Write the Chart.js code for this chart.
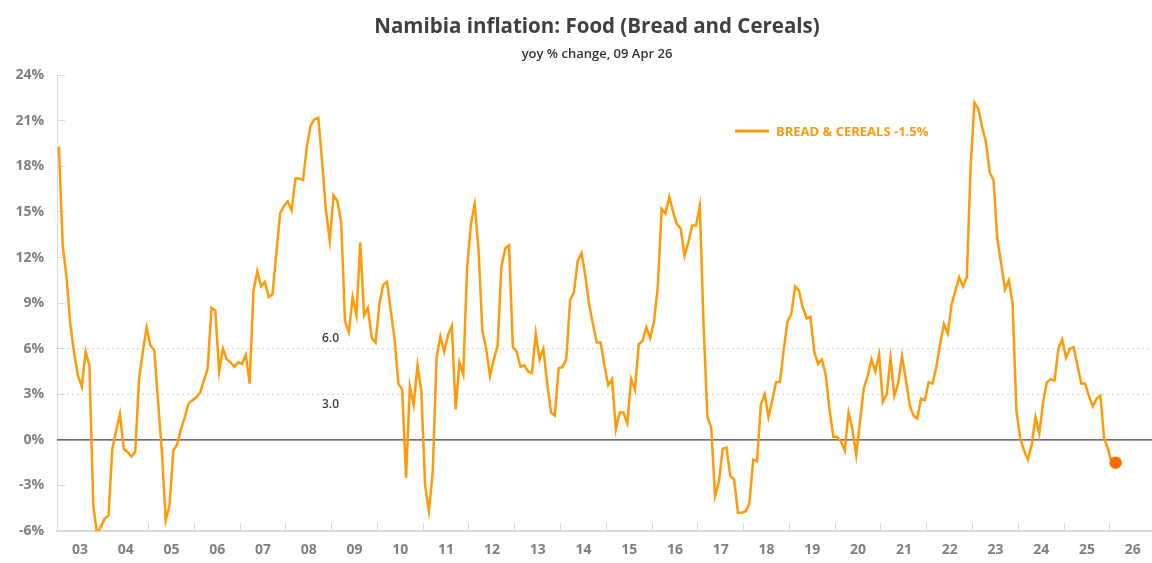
<!DOCTYPE html>
<html>
<head>
    <title>Namibia inflation: Food (Bread and Cereals)</title>
    <style>
        body { margin: 0; background: #fff; }
        .chart-container { width: 1152px; height: 563px; overflow: hidden; }
    </style>
    <script src="https://cdn.jsdelivr.net/npm/chart.js@4.4.1/dist/chart.umd.min.js"></script>
</head>
<body>
<div class="chart-container"><canvas id="foodChart"></canvas></div>
<script>
    // monthly yoy % change, Jan 2003 .. Feb 2026 (one row per year)
    const startYear = 2003;
    const breadCereals = [
        19.3, 12.8, 10.7, 7.6, 5.7, 4.2, 3.5, 5.8, 4.9, -4.3, -6.2, -5.7,
        -5.2, -5.0, -0.6, 0.6, 1.7, -0.6, -0.8, -1.1, -0.8, 4.0, 5.8, 7.4,
        6.2, 5.9, 2.5, -0.8, -5.3, -4.3, -0.7, -0.3, 0.7, 1.5, 2.4, 2.6,
        2.8, 3.1, 3.9, 4.7, 8.7, 8.5, 4.5, 6.0, 5.3, 5.1, 4.8, 5.1,
        5.0, 5.6, 3.7, 9.8, 11.1, 10.1, 10.4, 9.4, 9.6, 12.3, 14.9, 15.4,
        15.7, 15.1, 17.2, 17.2, 17.1, 19.3, 20.7, 21.1, 21.2, 18.3, 15.1, 13.1,
        16.1, 15.7, 14.3, 7.8, 7.1, 9.4, 8.2, 13.0, 8.2, 8.7, 6.7, 6.4,
        8.9, 10.2, 10.4, 8.5, 6.6, 3.7, 3.3, -2.5, 3.5, 2.3, 4.9, 3.2,
        -3.0, -4.7, -2.1, 5.4, 6.8, 5.8, 6.9, 7.5, 2.0, 5.1, 4.3, 11.3,
        14.2, 15.5, 12.5, 7.2, 6.0, 4.2, 5.3, 6.2, 11.4, 12.6, 12.8, 6.1,
        5.8, 4.8, 4.9, 4.5, 4.4, 7.0, 5.3, 6.0, 3.7, 1.8, 1.6, 4.7,
        4.8, 5.3, 9.2, 9.7, 11.8, 12.3, 10.8, 8.9, 7.6, 6.4, 6.4, 4.9,
        3.6, 4.0, 0.7, 1.8, 1.8, 1.1, 4.0, 3.3, 6.3, 6.5, 7.4, 6.7,
        7.8, 10.1, 15.2, 14.9, 16.0, 15.0, 14.2, 13.9, 12.1, 13.0, 14.1, 14.1,
        15.4, 7.5, 1.5, 0.8, -3.7, -2.8, -0.6, -0.5, -2.4, -2.6, -4.8, -4.8,
        -4.7, -4.2, -1.3, -1.4, 2.3, 3.0, 1.5, 2.6, 3.8, 3.8, 5.9, 7.8,
        8.3, 10.1, 9.8, 8.7, 8.0, 8.1, 5.8, 5.0, 5.3, 4.3, 2.0, 0.2,
        0.2, -0.1, -0.7, 1.8, 0.7, -1.0, 1.2, 3.4, 4.2, 5.3, 4.5, 5.6,
        2.5, 3.0, 5.4, 2.9, 3.7, 5.5, 4.0, 2.3, 1.6, 1.4, 2.7, 2.6,
        3.8, 3.7, 4.8, 6.3, 7.6, 7.0, 8.9, 9.8, 10.7, 10.1, 10.7, 18.0,
        22.2, 21.8, 20.6, 19.6, 17.6, 17.1, 13.2, 11.6, 9.9, 10.5, 9.0, 1.9,
        0.1, -0.7, -1.3, -0.3, 1.5, 0.4, 2.5, 3.8, 4.0, 3.9, 6.0, 6.6,
        5.4, 6.0, 6.1, 4.9, 3.7, 3.7, 2.9, 2.2, 2.7, 2.9, 0.1, -0.6,
        -1.5, -1.5
    ];
    const yearLabels = ['03', '04', '05', '06', '07', '08', '09', '10', '11', '12', '13', '14',
                        '15', '16', '17', '18', '19', '20', '21', '22', '23', '24', '25', '26'];
    const yTicks = [-6, -3, 0, 3, 6, 9, 12, 15, 18, 21, 24];
    const targetLines = [3, 6];
    const seriesName = 'BREAD & CEREALS';

    const xMin = startYear;
    const xMax = 2026.92;
    const font = '"Open Sans", "Noto Sans", sans-serif';
    const orange = '#FF9A0A';
    const lastIdx = breadCereals.length - 1;
    const lastValue = breadCereals[lastIdx];

    const lineData = breadCereals.map((v, i) => ({ x: startYear + (i + 0.5) / 12, y: v }));
    const flatLine = (v) => [{ x: xMin, y: v }, { x: xMax, y: v }];

    // legend box and the 3.0 / 6.0 target labels
    const annotations = {
        id: 'annotations',
        afterDraw(chart) {
            const ctx = chart.ctx;
            const yScale = chart.scales.y;
            ctx.save();
            ctx.strokeStyle = orange;
            ctx.lineWidth = 3;
            ctx.beginPath();
            ctx.moveTo(735, 131);
            ctx.lineTo(769, 131);
            ctx.stroke();
            ctx.fillStyle = orange;
            ctx.font = 'bold 13px ' + font;
            ctx.textBaseline = 'middle';
            ctx.fillText(seriesName + ' ' + lastValue.toFixed(1) + '%', 776, 132);

            ctx.fillStyle = '#404040';
            ctx.font = '600 12px ' + font;
            ctx.fillText(targetLines[1].toFixed(1), 322, yScale.getPixelForValue(targetLines[1]) - 10);
            ctx.fillText(targetLines[0].toFixed(1), 322, yScale.getPixelForValue(targetLines[0]) + 10);
            ctx.restore();
        }
    };

    const ctx = document.getElementById('foodChart').getContext('2d');
    new Chart(ctx, {
        type: 'line',
        data: {
            datasets: [
                {
                    label: seriesName,
                    data: lineData,
                    borderColor: orange,
                    borderWidth: 2.5,
                    pointRadius: c => c.dataIndex === lastIdx ? 5 : 0,
                    pointBackgroundColor: '#FF6A00',
                    pointBorderColor: '#FF6A00',
                    tension: 0
                },
                {
                    label: 'zero',
                    data: flatLine(0),
                    borderColor: '#404040',
                    borderWidth: 1.2,
                    pointRadius: 0
                },
                ...targetLines.map(v => ({
                    label: 'target ' + v,
                    data: flatLine(v),
                    borderColor: '#cfcfcf',
                    borderWidth: 1,
                    borderDash: [2, 3],
                    pointRadius: 0
                }))
            ]
        },
        options: {
            responsive: true,
            maintainAspectRatio: false,
            animation: false,
            // negative right padding shifts the centred title like the original
            layout: { autoPadding: false, padding: { left: 16, right: -26, top: 0, bottom: 2 } },
            plugins: {
                legend: { display: false },
                tooltip: { enabled: false },
                title: {
                    display: true,
                    text: 'Namibia inflation: Food (Bread and Cereals)',
                    color: '#404040',
                    font: { family: font, size: 20.5, weight: 'bold' },
                    padding: { top: 15, bottom: 0 }
                },
                subtitle: {
                    display: true,
                    text: 'yoy % change, 09 Apr 26',
                    color: '#333333',
                    font: { family: font, size: 13, weight: '600' },
                    padding: { top: 7, bottom: 13 }
                }
            },
            scales: {
                x: {
                    type: 'linear',
                    min: xMin,
                    max: xMax,
                    afterBuildTicks: s => { s.ticks = yearLabels.map((l, i) => ({ value: startYear + i })); },
                    afterFit: s => { s.height = 30; },
                    ticks: {
                        callback: v => yearLabels[Math.round(v - startYear)],
                        labelOffset: 22.9,
                        autoSkip: false,
                        maxRotation: 0,
                        color: '#7f7f7f',
                        font: { family: font, size: 14, weight: 'bold' },
                        padding: 19
                    },
                    grid: { drawOnChartArea: false, tickLength: -8, color: '#d9d9d9' },
                    border: { color: '#d9d9d9', width: 2 }
                },
                y: {
                    min: -6,
                    max: 24,
                    afterBuildTicks: s => { s.ticks = yTicks.map(v => ({ value: v })); },
                    afterFit: s => { s.width = 41; },
                    ticks: {
                        callback: v => v + '%',
                        color: '#7f7f7f',
                        font: { family: font, size: 14, weight: 'bold' },
                        padding: 21
                    },
                    grid: { drawOnChartArea: false, tickLength: -8, color: '#d9d9d9' },
                    border: { color: '#d9d9d9', width: 1 }
                }
            }
        },
        plugins: [annotations]
    });
</script>
</body>
</html>
